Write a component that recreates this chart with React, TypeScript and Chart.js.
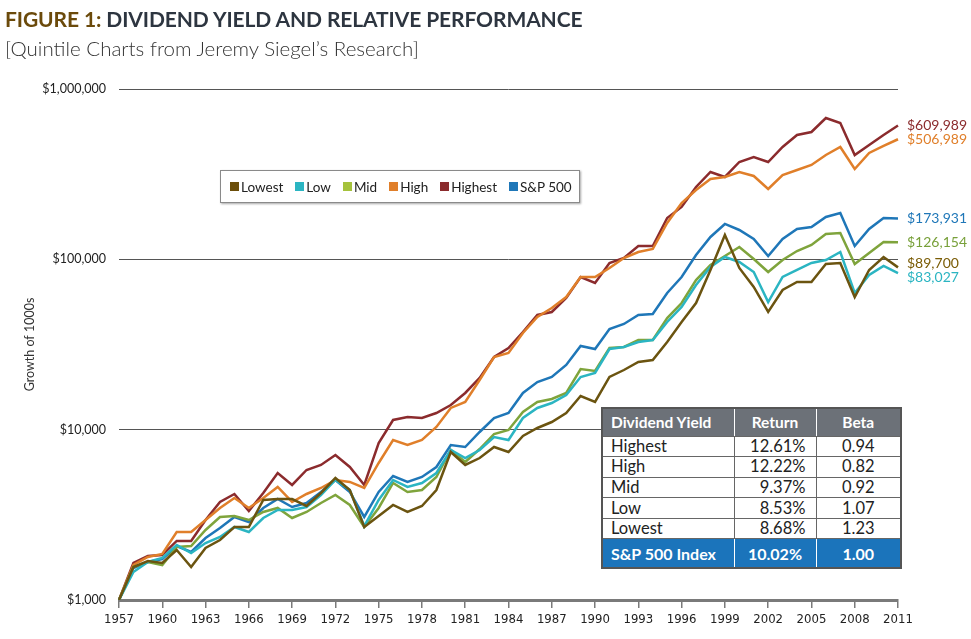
import React, { useEffect, useRef } from "react";
import { Chart, registerables } from "chart.js";

Chart.register(...registerables);

const years = [
  "1957","1958","1959","1960","1961","1962","1963","1964","1965","1966",
  "1967","1968","1969","1970","1971","1972","1973","1974","1975","1976",
  "1977","1978","1979","1980","1981","1982","1983","1984","1985","1986",
  "1987","1988","1989","1990","1991","1992","1993","1994","1995","1996",
  "1997","1998","1999","2000","2001","2002","2003","2004","2005","2006",
  "2007","2008","2009","2010","2011",
];

const lowest = [
  1000,1562,1694,1650,1966,1562,2020,2251,2683,2683,
  3864,3917,3917,3564,4249,5204,4424,2683,3112,3612,
  3286,3564,4424,7393,6203,6818,7912,7393,9180,10230,
  11090,12530,15760,14540,20380,22400,24970,25650,32720,42870,
  55410,86580,139000,88970,68810,49080,66070,73620,73620,93900,
  95170,60100,86580,103200,89700,
];
const low = [
  1000,1460,1672,1765,2103,1888,2161,2344,2683,2507,
  3030,3376,3376,3516,4135,5066,4424,2719,3864,5066,
  4607,4863,5567,7597,6818,7597,9057,8698,11710,13410,
  14340,15980,20380,21510,29760,30580,32720,33610,42870,52520,
  70700,90160,103200,96470,84270,56170,78770,86580,95170,99110,
  110400,63450,80930,91390,83027,
];
const mid = [
  1000,1562,1672,1605,2047,2075,2576,3072,3112,2949,
  3286,3469,3030,3286,3711,4135,3612,2683,3469,4863,
  4306,4424,5274,7597,6460,7700,9432,9956,12700,14540,
  15140,16420,22710,22110,30170,30580,33610,33610,45240,55410,
  75610,92640,104600,118200,100500,84270,99110,111900,121400,140900,
  142800,93900,109000,126400,126154,
];
const high = [
  1000,1605,1789,1863,2507,2507,2949,3469,3970,3469,
  3970,4607,3762,4192,4546,5066,4931,4546,6373,8698,
  8128,8698,10370,13410,14540,19570,26720,28190,36950,45860,
  51810,60100,78770,78770,88970,101800,110400,115000,163500,214200,
  255400,296300,304400,325700,308500,258800,312700,334600,358000,409800,
  456600,339200,421000,462900,506989,
];
const highest = [
  1000,1649,1813,1838,2221,2221,2949,3762,4192,3331,
  4249,5567,4734,5797,6203,7101,6038,4734,8352,11400,
  11870,11710,12530,13960,16420,20110,26720,30170,37450,47120,
  49080,59290,78770,72620,95170,101800,119800,119800,174900,202900,
  265900,325700,304400,372800,398900,372800,456600,537000,559300,675600,
  631600,409800,469300,537000,609989,
];
const sp500 = [
  1000,1541,1672,1741,2075,1913,2312,2647,3072,2871,
  3469,3917,3516,3711,4306,5066,4306,3072,4306,5346,
  4931,5274,6038,8128,7912,9690,11710,12530,16420,19050,
  20380,23980,30990,29760,38990,41730,47120,47760,63450,78770,
  106000,135300,161300,148700,131600,104600,131600,150700,154900,177300,
  187100,119800,150700,174900,173931,
];

const seriesNames = ["Lowest", "Low", "Mid", "High", "Highest", "S&P 500"];
const seriesData = [lowest, low, mid, high, highest, sp500];
const seriesColors = ["#6b5410", "#2bb5c2", "#7fa43c", "#e07f2a", "#8b2b2d", "#1f77b8"];
const legendColors = ["#6b4e0a", "#2bb5c2", "#a5c23c", "#e07f2a", "#8b2b2d", "#1f77b8"];
const labelColors = ["#7a5c06", "#2bb5c2", "#78a03a", "#e07f2a", "#8b2b2d", "#1f77b8"];

const yTicks = [1000, 10000, 100000, 1000000];

const tableHeader = ["Dividend Yield", "Return", "Beta"];
const tableNames = ["Highest", "High", "Mid", "Low", "Lowest"];
const tableReturns = ["12.61%", "12.22%", "9.37%", "8.53%", "8.68%"];
const tableBetas = ["0.94", "0.82", "0.92", "1.07", "1.23"];
const tableFooter = ["S&P 500 Index", "10.02%", "1.00"];

const fmt = (v: number) => "$" + Math.round(v).toLocaleString("en-US");

const endLabels = {
  id: "endLabels",
  afterDatasetsDraw(chart: any) {
    const ctx = chart.ctx;
    const items: { y: number; text: string; color: string }[] = [];
    chart.data.datasets.forEach((ds: any, i: number) => {
      const meta = chart.getDatasetMeta(i);
      const pt = meta.data[meta.data.length - 1];
      items.push({ y: pt.y, text: fmt(ds.data[ds.data.length - 1]), color: labelColors[i] });
    });
    items.sort((a, b) => a.y - b.y);
    const gap = 14;
    for (let iter = 0; iter < 20; iter++) {
      for (let k = 1; k < items.length; k++) {
        const d = items[k].y - items[k - 1].y;
        if (d < gap) {
          const s = (gap - d) / 2;
          items[k].y += s;
          items[k - 1].y -= s;
        }
      }
    }
    ctx.save();
    ctx.font = "14px Lato";
    ctx.textBaseline = "middle";
    ctx.textAlign = "left";
    items.forEach((it) => {
      ctx.fillStyle = it.color;
      ctx.fillText(it.text, chart.chartArea.right + 9, it.y);
    });
    ctx.restore();
  },
};

export default function App() {
  const ref = useRef<HTMLCanvasElement | null>(null);

  useEffect(() => {
    if (!ref.current) return;
    Chart.defaults.font.family = "Lato";
    const chart = new Chart(ref.current, {
      type: "line",
      data: {
        labels: years,
        datasets: seriesNames.map((name, i) => ({
          label: name,
          data: seriesData[i],
          borderColor: seriesColors[i],
          backgroundColor: seriesColors[i],
          borderWidth: 2.5,
          pointRadius: 0,
          tension: 0,
          fill: false,
        })),
      },
      options: {
        responsive: false,
        animation: false,
        layout: { padding: { top: 89, right: 73, left: 0, bottom: 0 } },
        plugins: {
          legend: { display: false },
          tooltip: { enabled: false },
          title: { display: false },
        },
        scales: {
          x: {
            type: "category",
            offset: false,
            afterFit: (s: any) => {
              s.height = 39;
            },
            grid: {
              display: true,
              drawOnChartArea: false,
              drawTicks: true,
              tickLength: 8,
              color: "#7a7a7a",
              lineWidth: 1.5,
            },
            border: { display: true, color: "#7a7a7a", width: 3 },
            ticks: {
              autoSkip: false,
              maxRotation: 0,
              minRotation: 0,
              padding: 4,
              color: "#222",
              font: { family: "'Liberation Sans Narrow', 'DejaVu Sans Condensed', sans-serif", size: 13 },
              callback: (_v: any, idx: number) => (idx % 3 === 0 ? years[idx] : null),
            },
          },
          y: {
            type: "logarithmic",
            min: 1000,
            max: 1000000,
            afterFit: (s: any) => {
              s.width = 119;
            },
            afterBuildTicks: (s: any) => {
              s.ticks = yTicks.map((v) => ({ value: v }));
            },
            grid: {
              color: "#555",
              lineWidth: 1,
              drawTicks: false,
            },
            border: { display: false },
            ticks: {
              padding: 13,
              color: "#222",
              font: { family: "Lato", size: 12.5 },
              callback: (v: any) => fmt(Number(v)),
            },
            title: {
              display: true,
              text: "Growth of 1000s",
              color: "#333",
              font: { family: "Lato", size: 12.5 },
              padding: { top: 22, bottom: 0 },
            },
          },
        },
      },
      plugins: [endLabels],
    });
    return () => chart.destroy();
  }, []);

  const cellBase: React.CSSProperties = {
    padding: "0 8px",
    fontFamily: "Lato, sans-serif",
    fontSize: 16.5,
    color: "#222",
    borderRight: "1.5px solid #666",
    borderBottom: "1.5px solid #666",
    height: 20.6,
    lineHeight: "19px",
    boxSizing: "border-box",
  };

  return (
    <div style={{ position: "absolute", left: 0, top: 0, width: 971, height: 639, background: "#fff", overflow: "hidden" }}>
      <canvas ref={ref} width={971} height={639} style={{ position: "absolute", left: 0, top: 0, width: 971, height: 639 }} />
      <div
        style={{
          position: "absolute",
          left: 5,
          top: 6,
          fontFamily: "Lato, sans-serif",
          fontWeight: 700,
          fontSize: 21,
          color: "#2d3540",
          whiteSpace: "nowrap",
          letterSpacing: -0.1,
        }}
      >
        <span style={{ color: "#6b4a0b" }}>FIGURE 1:</span> DIVIDEND YIELD AND RELATIVE PERFORMANCE
      </div>
      <div
        style={{
          position: "absolute",
          left: 5,
          top: 36,
          fontFamily: "Lato, sans-serif",
          fontWeight: 300,
          fontSize: 20.5,
          color: "#333",
          whiteSpace: "nowrap",
        }}
      >
        [Quintile Charts from Jeremy Siegel’s Research]
      </div>

      <div
        style={{
          position: "absolute",
          left: 220,
          top: 170,
          width: 360,
          height: 33,
          boxSizing: "border-box",
          border: "1px solid #8a8a8a",
          boxShadow: "1px 1px 2px rgba(0,0,0,0.35)",
          background: "#fff",
          display: "flex",
          alignItems: "center",
          paddingLeft: 9,
          gap: 12,
          fontFamily: "Lato, sans-serif",
          fontSize: 13.5,
          color: "#222",
          whiteSpace: "nowrap",
        }}
      >
        {seriesNames.map((n, i) => (
          <div key={n} style={{ display: "flex", alignItems: "center", gap: 2, whiteSpace: "nowrap" }}>
            <span style={{ display: "inline-block", width: 9, height: 9, background: legendColors[i] }} />
            <span>{n}</span>
          </div>
        ))}
      </div>

      <table
        style={{
          position: "absolute",
          left: 601,
          top: 407,
          width: 299,
          borderCollapse: "collapse",
          background: "#fff",
          border: "2px solid #555",
          tableLayout: "fixed",
        }}
      >
        <colgroup>
          <col style={{ width: 132 }} />
          <col style={{ width: 82 }} />
          <col style={{ width: 85 }} />
        </colgroup>
        <thead>
          <tr style={{ background: "#6c7178", height: 28 }}>
            {tableHeader.map((h, i) => (
              <th
                key={h}
                style={{
                  ...cellBase,
                  height: 28,
                  fontSize: 15.5,
                  color: "#fff",
                  fontWeight: 700,
                  textAlign: i === 0 ? "left" : "center",
                  borderRight: i < 2 ? "1.5px solid #fff" : "none",
                  borderBottom: "1.5px solid #666",
                }}
              >
                {h}
              </th>
            ))}
          </tr>
        </thead>
        <tbody>
          {tableNames.map((n, r) => (
            <tr key={n}>
              <td style={{ ...cellBase, textAlign: "left" }}>{n}</td>
              <td style={{ ...cellBase, textAlign: "right", paddingRight: 10 }}>{tableReturns[r]}</td>
              <td style={{ ...cellBase, textAlign: "center", borderRight: "none" }}>{tableBetas[r]}</td>
            </tr>
          ))}
          <tr style={{ background: "#1b74bb", height: 29 }}>
            {tableFooter.map((f, i) => (
              <td
                key={f}
                style={{
                  ...cellBase,
                  height: 29,
                  fontSize: 16,
                  color: "#fff",
                  fontWeight: 700,
                  textAlign: i === 0 ? "left" : "center",
                  borderRight: i < 2 ? "1.5px solid #fff" : "none",
                  borderBottom: "none",
                }}
              >
                {f}
              </td>
            ))}
          </tr>
        </tbody>
      </table>
    </div>
  );
}
